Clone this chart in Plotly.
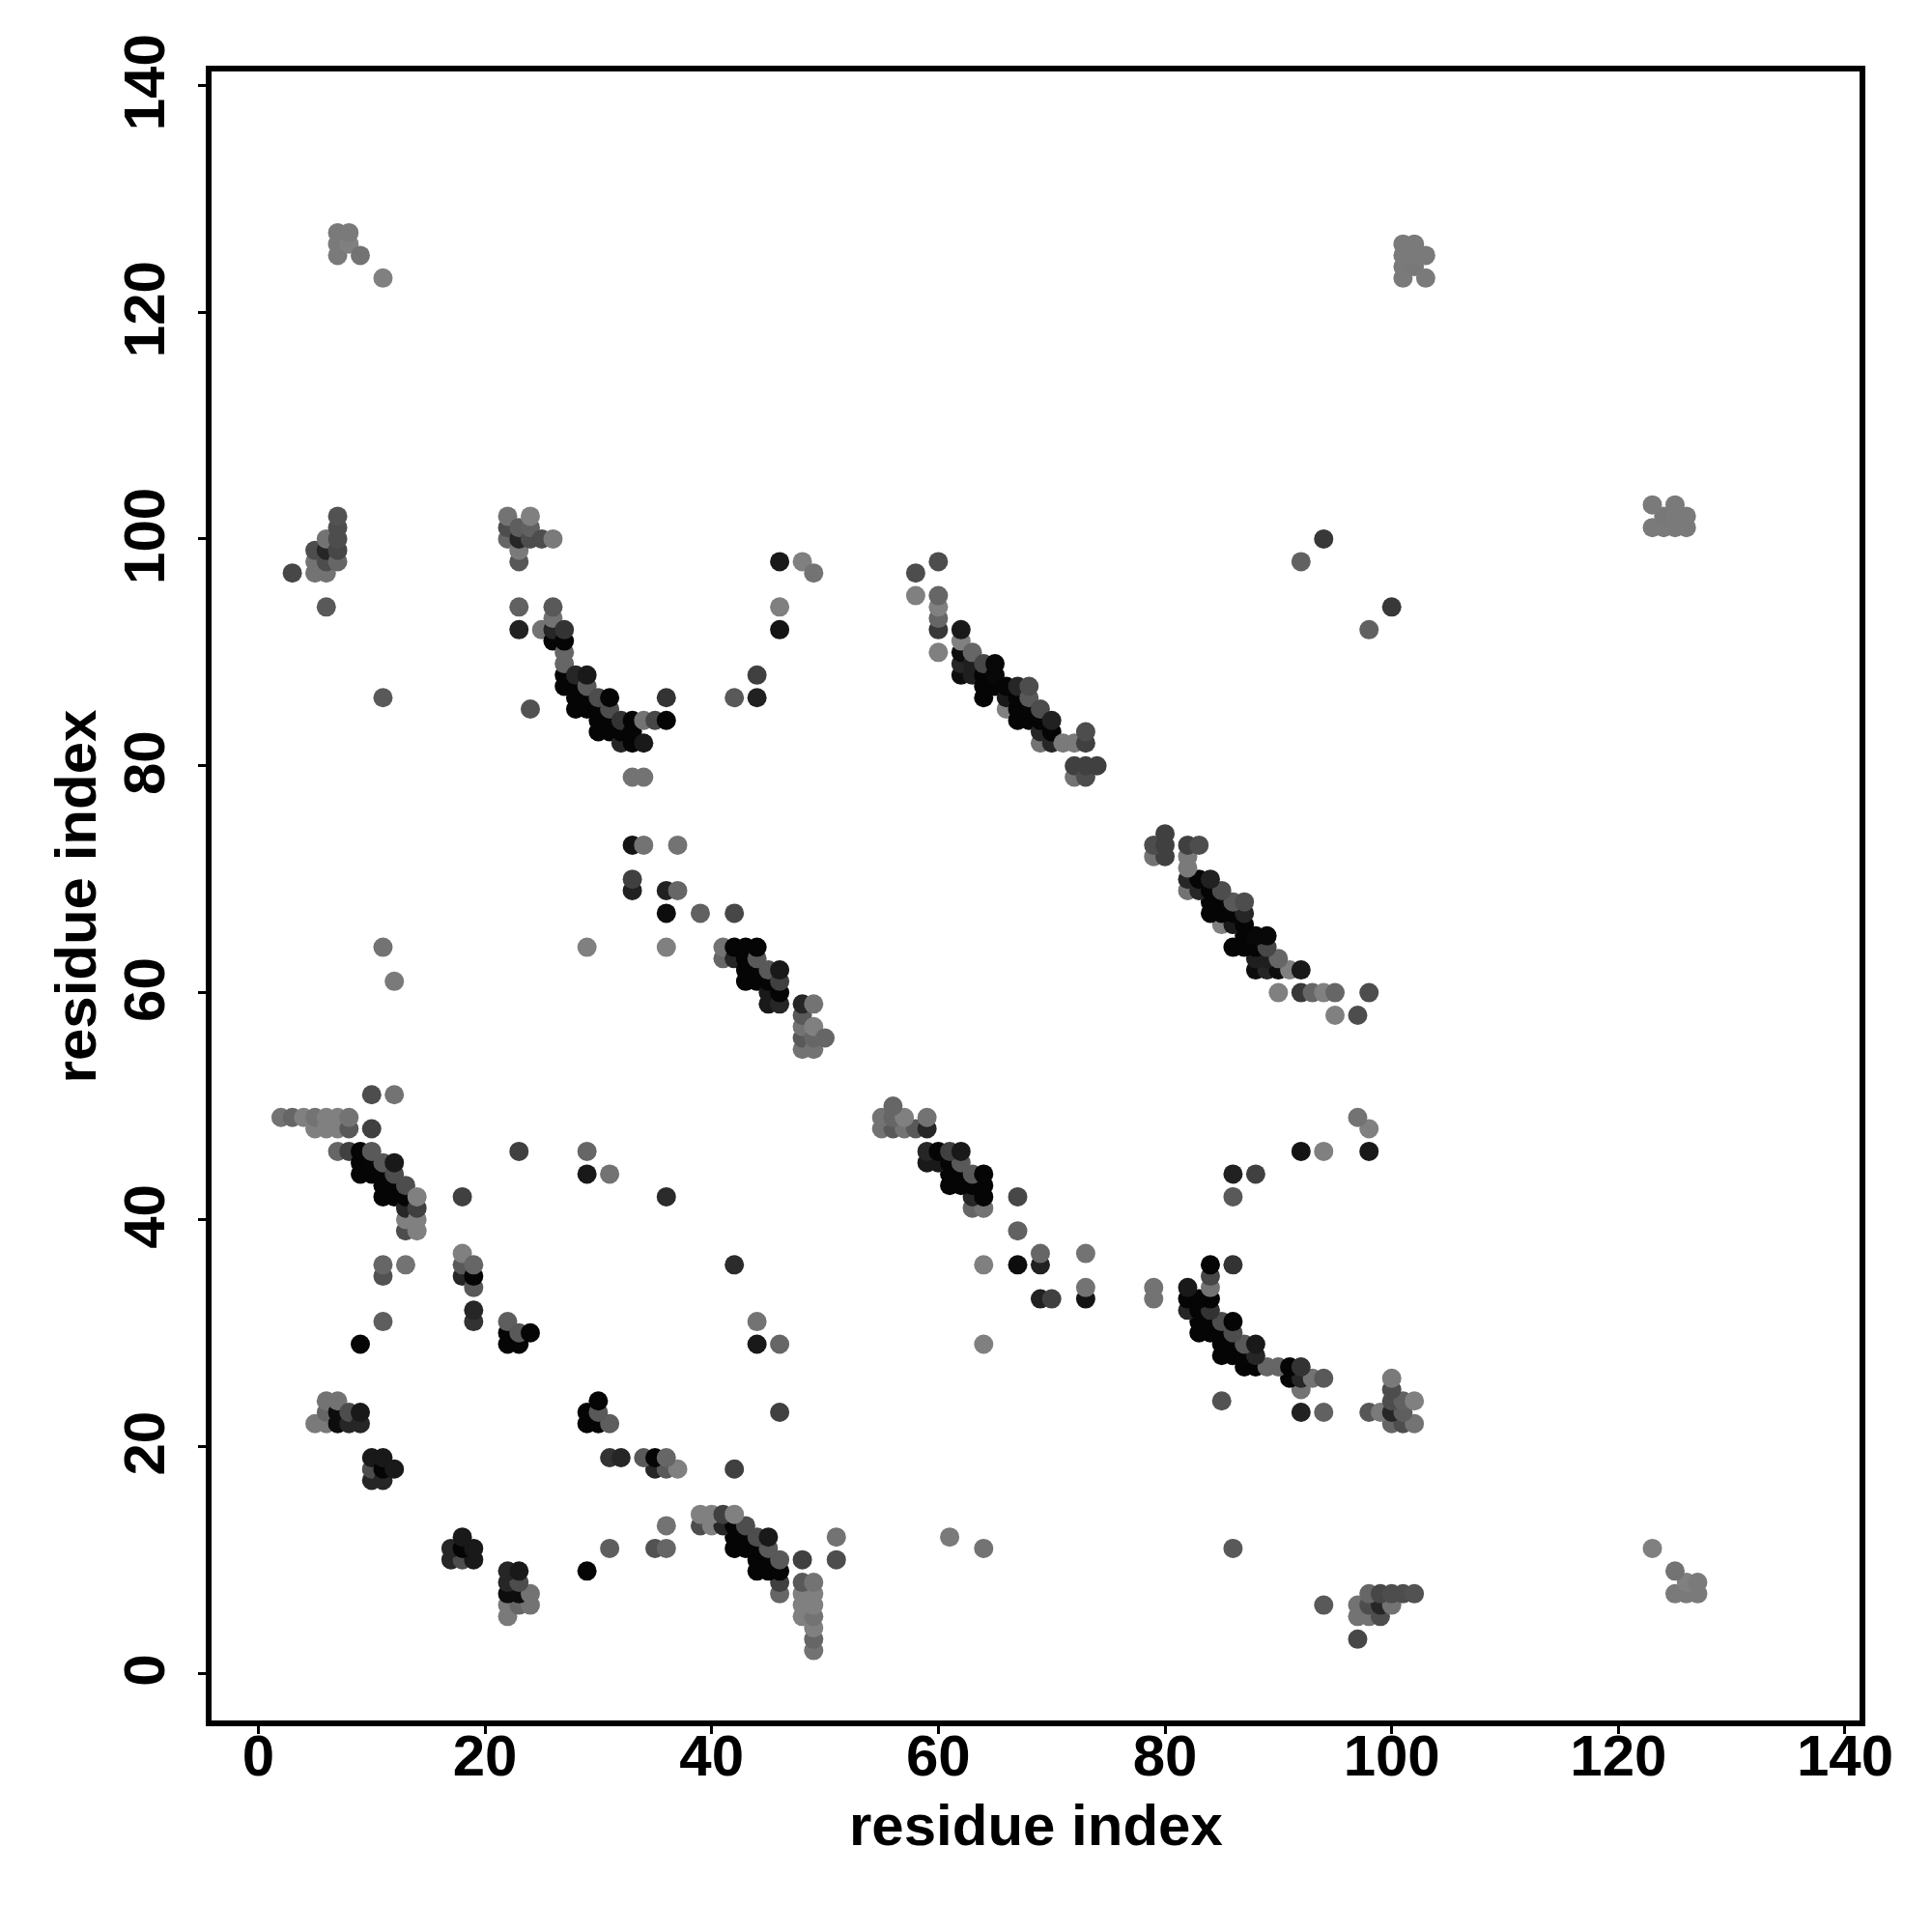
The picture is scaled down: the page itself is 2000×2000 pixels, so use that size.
import plotly.graph_objects as go

# contact pairs (residue i < residue j) with darkness
res_i = [2,3,3,4,
 5,5,5,5,5,5,
 6,6,6,6,6,6,6,6,6,6,
 7,7,7,7,7,7,7,7,7,7,7,7,7,7,
 8,8,8,8,8,8,8,
 9,9,9,9,9,9,9,
 10,10,10,10,10,10,10,10,
 11,11,11,11,11,11,11,11,11,11,11,11,11,
 12,12,12,12,12,12,12,
 13,13,13,13,13,13,
 14,14,14,14,
 18,18,18,18,
 19,19,19,19,19,
 22,22,22,22,22,22,
 23,23,23,23,23,23,23,23,23,
 24,24,24,24,24,
 25,25,
 26,26,26,26,26,
 27,27,27,27,27,27,
 28,28,28,28,
 29,29,29,29,29,29,29,
 30,30,30,30,
 31,31,31,31,31,
 32,32,32,
 33,33,33,33,33,33,33,
 34,34,34,34,
 35,
 36,36,36,36,36,36,
 37,37,
 39,
 41,41,
 42,42,42,42,
 43,43,43,43,
 44,44,44,44,44,44,
 45,45,45,45,
 46,46,46,46,46,46,46,
 48,48,48,48,48,48,
 49,49,49,49,49,
 50,
 58,58,
 60,60,60,60,60,60,
 62,62,62,62,62,
 63,63,63,
 64,64,64,64,
 65,65,65,
 66,66,66,
 67,67,67,67,
 68,68,68,68,
 69,69,69,69,
 70,70,70,
 71,
 72,72,72,
 73,73,73,73,
 74,
 92,94,
 101,101,101,101,
 102,102,102,
 103,103]
res_j = [49,49,97,49,
 22,48,49,97,98,99,
 22,23,24,48,49,94,97,98,99,100,
 22,23,24,46,48,49,98,99,100,101,102,125,126,127,
 22,23,46,48,49,126,127,
 22,23,29,44,45,46,125,
 17,18,19,44,45,46,48,51,
 17,18,19,31,35,36,42,43,44,45,64,86,123,
 18,42,43,44,45,51,61,
 36,39,40,41,42,43,
 39,40,41,42,
 35,36,37,42,
 31,32,34,35,36,
 29,30,31,100,101,102,
 29,30,46,92,94,98,99,100,101,
 30,85,100,101,102,
 92,100,
 91,92,93,94,100,
 87,88,89,90,91,92,
 85,86,87,88,
 44,46,64,85,86,87,88,
 83,84,85,86,
 44,83,84,85,86,
 82,83,84,
 69,70,73,79,82,83,84,
 73,79,82,84,
 84,
 42,64,67,69,84,86,
 69,73,
 67,
 63,64,
 63,64,67,86,
 61,62,63,64,
 61,62,63,64,86,88,
 59,60,61,62,
 59,60,61,62,92,94,98,
 55,56,57,58,59,98,
 55,56,57,59,97,
 56,
 95,97,
 90,92,93,94,95,98,
 88,89,90,91,92,
 88,89,90,
 86,87,88,89,
 87,88,89,
 85,86,87,
 84,85,86,87,
 84,85,86,87,
 82,83,84,85,
 82,83,84,
 82,
 79,80,82,
 79,80,82,83,
 80,
 98,100,
 123,124,125,126,
 124,125,126,
 123,125]
darkness = [.55,.6,.72,.5,
 .52,.5,.55,.55,.55,.7,
 .52,.6,.55,.5,.5,.65,.55,.7,.85,.55,
 .95,.95,.55,.6,.5,.5,.6,.72,.7,.7,.68,.52,.52,.52,
 .85,.7,.75,.65,.55,.5,.52,
 .85,.9,.98,.98,.98,.98,.55,
 .85,.7,.9,.98,.98,.65,.75,.7,
 .85,.98,.9,.63,.68,.6,.98,.98,.98,.65,.55,.65,.5,
 .9,.98,.98,.7,.9,.55,.52,
 .55,.7,.5,.85,.98,.7,
 .5,.5,.75,.5,
 .85,.65,.5,.75,
 .8,.85,.65,.98,.6,
 .98,.98,.63,.6,.7,.55,
 .98,.65,.75,.87,.62,.66,.52,.85,.63,
 .98,.68,.7,.62,.5,
 .55,.7,
 .98,.85,.55,.65,.52,
 .98,.98,.6,.6,.98,.8,
 .98,.98,.98,.85,
 .9,.6,.5,.98,.98,.65,.9,
 .98,.98,.98,.7,
 .55,.98,.98,.7,.98,
 .85,.98,.8,
 .87,.75,.92,.55,.98,.98,.98,
 .55,.55,.9,.55,
 .72,
 .83,.5,.95,.87,.98,.8,
 .6,.55,
 .62,
 .6,.55,
 .85,.98,.72,.65,
 .98,.98,.98,.98,
 .98,.98,.65,.98,.87,.75,
 .9,.9,.98,.65,
 .85,.98,.75,.9,.92,.5,.9,
 .55,.65,.55,.65,.85,.5,
 .55,.6,.5,.55,.55,
 .6,
 .5,.7,
 .5,.78,.6,.5,.6,.7,
 .95,.85,.95,.5,.9,
 .88,.88,.6,
 .98,.98,.98,.72,
 .98,.97,.97,
 .5,.9,.98,
 .98,.98,.98,.85,
 .98,.98,.65,.7,
 .55,.85,.98,.7,
 .85,.98,.87,
 .52,
 .55,.75,.52,
 .7,.75,.75,.7,
 .75,
 .62,.78,
 .52,.52,.52,.52,
 .53,.52,.52,
 .52,.52]
x_ticks = [0,20,40,60,80,100,120,140]
y_ticks = [0,20,40,60,80,100,120,140]
axis_title = "residue index"

assert len(res_i) == len(res_j) == len(darkness)

xs = res_i + res_j
ys = res_j + res_i
ds = darkness + darkness
colors = ["rgb({0},{0},{0})".format(round(255*(1-d))) for d in ds]

FONT = "Liberation Sans"
W, H = 2000, 2000
PAGE = 8  # browser body margin
L, R, T, B = 219.3-PAGE, 1925.0-PAGE, 73.7-PAGE, 1781.0-PAGE
Y_TOP = 141.3 - 1/11.74

fig = go.Figure(go.Scatter(x=xs, y=ys, mode="markers",
    marker=dict(size=20, color=colors, line=dict(width=0), opacity=1),
    hoverinfo="skip"))

tick_font = dict(family=FONT, size=60, color="black", weight="bold")
common = dict(showline=True, linewidth=6, linecolor="black", mirror=True,
              showgrid=False, zeroline=False, ticks="outside", ticklen=8,
              tickwidth=3, tickcolor="black", tickfont=tick_font)
fig.update_xaxes(range=[-4.126, 141.28], tickvals=x_ticks, ticktext=[str(v) for v in x_ticks],
                 ticklabelstandoff=-29, **common)
fig.update_yaxes(range=[-4.17, Y_TOP], tickvals=y_ticks, ticktext=[str(v) for v in y_ticks],
                 tickangle=-90, ticklabelstandoff=11, ticklabelshift=6, **common)
title_font = dict(family=FONT, size=60, color="black")
fig.update_layout(width=W, height=H, paper_bgcolor="white", plot_bgcolor="white",
    showlegend=False, margin=dict(l=L, r=W-R, t=T, b=H-B, pad=0, autoexpand=False),
    font=dict(family=FONT, color="black"),
    annotations=[
      dict(text="<b>%s</b>" % axis_title, xref="x", yref="paper", x=68.6, y=-(1890-PAGE-B)/(B-T),
           showarrow=False, yanchor="middle", xanchor="center", font=title_font),
      dict(text="<b>%s</b>" % axis_title, xref="paper", yref="y", x=-(L-(79-PAGE))/(R-L), y=68.5,
           showarrow=False, textangle=-90, yanchor="middle", xanchor="center", font=title_font),
    ])
fig.write_html("out.html")
